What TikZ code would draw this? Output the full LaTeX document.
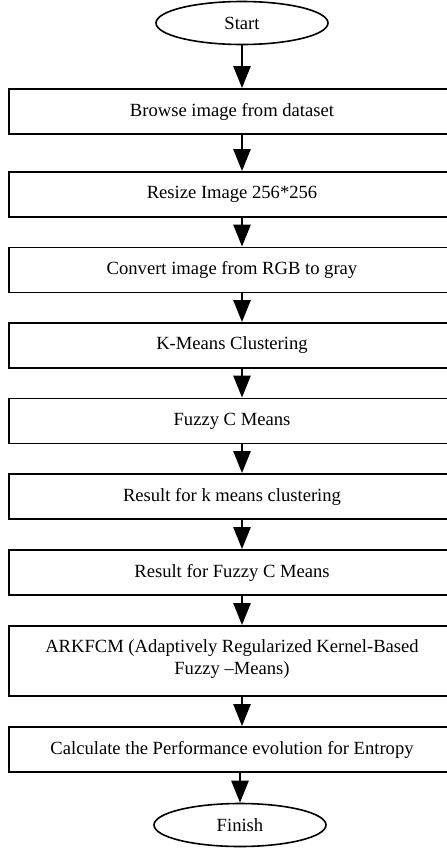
\documentclass[tikz,border=0pt]{standalone}
\usepackage{fontspec}
\setmainfont{Liberation Serif}
\usetikzlibrary{shapes.geometric,arrows.meta}

\begin{document}
\begin{tikzpicture}[x=1pt,y=-1pt,
			font=\fontsize{18.6}{22}\selectfont,
			stepbox/.style={draw,line width=1.8pt,minimum width=446pt,minimum height=45pt,inner sep=0pt,align=center},
			term/.style={draw,ellipse,line width=1.6pt,minimum width=172pt,minimum height=43pt,inner sep=0pt},
			arr/.style={line width=2.6pt,-{Triangle[length=22pt,width=17pt]}}]
			\useasboundingbox (0,0) rectangle (447,849);
			\node[term] (start) at (242,23){Start};
			\node[stepbox] (b1) at (232,111.5){Browse image from dataset};
			\node[stepbox] (b2) at (232,194.5){Resize Image 256*256};
			\node[stepbox] (b3) at (232,270){Convert image from RGB to gray};
			\node[stepbox] (b4) at (232,345.5){K-Means Clustering};
			\node[stepbox] (b5) at (232,421){Fuzzy C Means};
			\node[stepbox] (b6) at (232,496.5){Result for k means clustering};
			\node[stepbox] (b7) at (232,572.5){Result for Fuzzy C Means};
			\node[stepbox,minimum height=70pt] (b8) at (232,661){ARKFCM (Adaptively Regularized Kernel-Based\\Fuzzy --Means)\\[-14pt]};
			\node[stepbox] (b9) at (232,749.5){Calculate the Performance evolution for Entropy};
			\node[term] (finish) at (240,825){Finish};
			\draw[arr] (start.south) -- (start.south |- b1.north);
			\draw[arr] (b1.south -| start.south) -- (b2.north -| start.south);
			\draw[arr] (b2.south -| start.south) -- (b3.north -| start.south);
			\draw[arr] (b3.south -| start.south) -- (b4.north -| start.south);
			\draw[arr] (b4.south -| start.south) -- (b5.north -| start.south);
			\draw[arr] (b5.south -| start.south) -- (b6.north -| start.south);
			\draw[arr] (b6.south -| start.south) -- (b7.north -| start.south);
			\draw[arr] (b7.south -| start.south) -- (b8.north -| start.south);
			\draw[arr] (b8.south -| start.south) -- (b9.north -| start.south);
			\draw[arr] (b9.south -| finish.north) -- (finish.north);
		\end{tikzpicture}
\end{document}
